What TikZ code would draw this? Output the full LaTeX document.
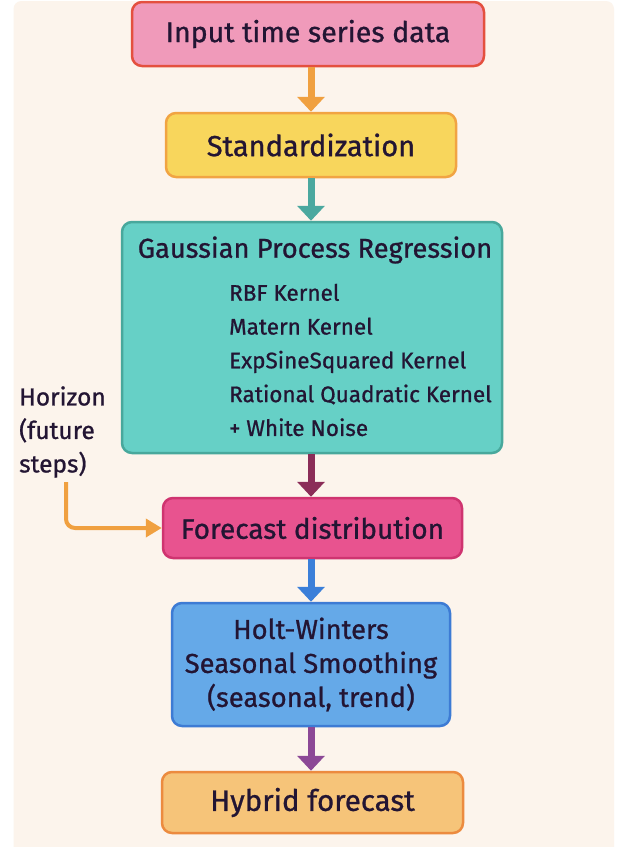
\documentclass[tikz,border=0pt]{standalone}
\usepackage{fontspec}
\setmainfont{Fira Sans}[FakeBold=0.9]
\usetikzlibrary{arrows.meta,calc}
\definecolor{bgcream}{HTML}{FCF4EC}
\definecolor{txtdark}{HTML}{231533}
\definecolor{inFill}{HTML}{F09ABA}
\definecolor{inLine}{HTML}{E4503F}
\definecolor{stFill}{HTML}{F8D65C}
\definecolor{stLine}{HTML}{F1A443}
\definecolor{arOrange}{HTML}{F0A040}
\definecolor{arTeal}{HTML}{4BA89F}
\definecolor{gpFill}{HTML}{66D0C6}
\definecolor{gpLine}{HTML}{48A89C}
\definecolor{arMaroon}{HTML}{8B2D58}
\definecolor{fdFill}{HTML}{E8538F}
\definecolor{fdLine}{HTML}{CF3470}
\definecolor{arBlue}{HTML}{3B7FD9}
\definecolor{hwFill}{HTML}{65A9E8}
\definecolor{hwLine}{HTML}{3D7BD4}
\definecolor{arPurple}{HTML}{8C4896}
\definecolor{hyFill}{HTML}{F6C479}
\definecolor{hyLine}{HTML}{EC8B3F}
\begin{document}
\begin{tikzpicture}[x=1pt,y=-1pt,
  box/.style={draw, line width=2.5pt, rounded corners=10pt, inner sep=0pt, text=txtdark, align=center},
  flow/.style={line width=7pt, -{Triangle[width=27pt,length=15pt]}},
]
\useasboundingbox (0,0) rectangle (625,847);
\fill[white] (0,0) rectangle (625,847);
\fill[bgcream, rounded corners=8pt] (13.5,1) rectangle (614,860);

\node[box, font=\fontsize{28.5}{33}\selectfont, fill=inFill, draw=inLine, minimum width=352pt, minimum height=64pt] (input) at (308,34) {Input time series data};
\node[box, font=\fontsize{29}{33}\selectfont, fill=stFill, draw=stLine, minimum width=290pt, minimum height=64pt] (std) at (311,145) {Standardization};
\node[box, fill=gpFill, draw=gpLine, minimum width=380pt, minimum height=231pt] (gpr) at (312,337.5) {};
\node[text=txtdark, font=\fontsize{27.3}{30}\selectfont] (gprtitle) at (315,250) {Gaussian Process Regression};
\node[text=txtdark, anchor=west, align=left, inner sep=0pt, font=\fontsize{22.5}{33.8}\selectfont] (kernels) at (229,360) {RBF Kernel\\Matern Kernel\\ExpSineSquared Kernel\\Rational Quadratic Kernel\\+ White Noise};
\node[box, font=\fontsize{28}{33}\selectfont, fill=fdFill, draw=fdLine, minimum width=299pt, minimum height=60pt] (fd) at (312.5,528) {Forecast distribution};
\node[box, fill=hwFill, draw=hwLine, minimum width=278pt, minimum height=123pt, font=\fontsize{27.3}{34}\selectfont] (hw) at (311,664.5) {Holt-Winters\\Seasonal Smoothing\\(seasonal, trend)};
\node[box, font=\fontsize{29.5}{33}\selectfont, fill=hyFill, draw=hyLine, minimum width=301pt, minimum height=61pt] (hy) at (312.5,802.5) {Hybrid forecast};

\node[text=txtdark, anchor=west, align=left, inner sep=0pt, font=\fontsize{24.5}{33.5}\selectfont] (horizon) at (19,432) {Horizon\\(future\\steps)};
\coordinate (hzstart) at (66,482);

\draw[flow, draw=arOrange, fill=arOrange] (input.south -| std.north) -- (std.north);
\draw[flow, draw=arTeal, fill=arTeal] (std.south) -- (std.south |- gpr.north);
\draw[flow, draw=arMaroon, fill=arMaroon] (gpr.south -| std.south) -- (fd.north -| std.south);
\draw[flow, draw=arBlue, fill=arBlue] (fd.south -| std.south) -- (hw.north -| std.south);
\draw[flow, draw=arPurple, fill=arPurple] (hw.south) -- (hw.south |- hy.north);
\draw[line width=4pt, draw=arOrange, rounded corners=9pt, -{Triangle[width=18pt,length=16pt,fill=arOrange]}] (hzstart) |- (fd.west);
\end{tikzpicture}
\end{document}
